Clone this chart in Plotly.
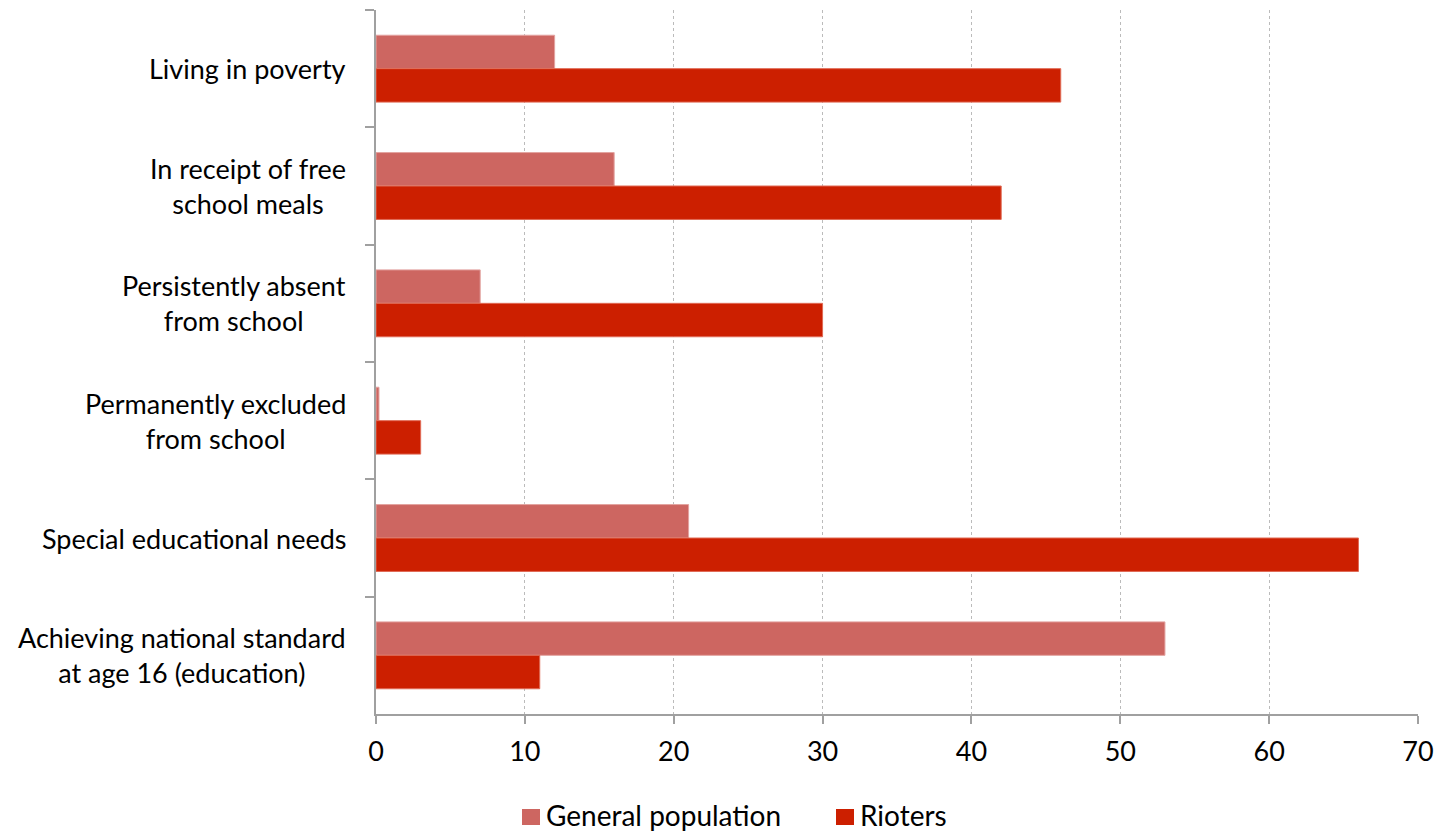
import plotly.graph_objects as go

categories = [
    "Living in poverty",
    "In receipt of free<br>school meals",
    "Persistently absent<br>from school",
    "Permanently excluded<br>from school",
    "Special educational needs",
    "Achieving national standard<br>at age 16 (education)",
]
series_names = ["General population", "Rioters"]
general_population = [12, 16, 7, 0.2, 21, 53]
rioters = [46, 42, 30, 3, 66, 11]
x_ticks = [0, 10, 20, 30, 40, 50, 60, 70]

FONT = "Lato"
FS = 27
AXIS_GREY = "#A0A0A0"
COLORS = ["#CD6661", "#CC1F00"]
EDGES = ["#E3A3A0", "#E06A55"]

fig = go.Figure()
for name, vals, col, edge in zip(series_names, [general_population, rioters], COLORS, EDGES):
    fig.add_trace(go.Bar(
        y=categories, x=vals, orientation="h", name=name,
        marker=dict(color=col, line=dict(color=edge, width=1)),
        showlegend=False,
    ))

# Category labels as annotations so multi-line text is centred
for cat in categories:
    fig.add_annotation(
        xref="paper", yref="y", x=-0.0265, y=cat,
        text=cat, showarrow=False, xanchor="right", yanchor="middle",
        align="center", font=dict(family=FONT, size=FS, color="#000000"),
    )

# Legend drawn below the axis: swatch + label for each series
PLOT_L, PLOT_W, PLOT_B, PLOT_H = 376, 1042, 714, 704
def px(xp):
    return (xp - PLOT_L) / PLOT_W
def py(yp):
    return (PLOT_B - yp) / PLOT_H

legend_items = [(522, 545), (836, 859)]
for (sw_x, tx), name, col in zip(legend_items, series_names, COLORS):
    fig.add_shape(
        type="rect", xref="paper", yref="paper",
        x0=px(sw_x), x1=px(sw_x + 18), y0=py(825), y1=py(809),
        fillcolor=col, line=dict(width=0),
    )
    fig.add_annotation(
        xref="paper", yref="paper", x=px(tx), y=py(815),
        text=name, showarrow=False, xanchor="left", yanchor="middle",
        borderpad=0,
        font=dict(family=FONT, size=28, color="#000000"),
    )

fig.update_layout(
    width=1450, height=835,
    margin=dict(l=376, r=32, t=10, b=121),
    paper_bgcolor="white", plot_bgcolor="white",
    barmode="group", bargap=0.43, bargroupgap=0,
    font=dict(family=FONT, size=FS, color="#000000"),
    showlegend=False,
    xaxis=dict(
        range=[0, 70], tickvals=x_ticks, ticktext=[str(v) for v in x_ticks],
        showgrid=True, gridcolor="#BBBBBB", griddash="dot", gridwidth=1,
        showline=True, linecolor=AXIS_GREY, linewidth=2,
        ticks="outside", ticklen=8, tickwidth=2, tickcolor=AXIS_GREY,
        ticklabelstandoff=5,
        zeroline=False, fixedrange=True,
        tickfont=dict(family=FONT, size=FS),
    ),
    yaxis=dict(
        autorange="reversed", type="category",
        showticklabels=False, tickson="boundaries",
        ticks="outside", ticklen=9, tickwidth=2, tickcolor=AXIS_GREY,
        showline=True, linecolor=AXIS_GREY, linewidth=2,
        showgrid=False, zeroline=False, fixedrange=True,
    ),
)

fig.write_html("out.html")
